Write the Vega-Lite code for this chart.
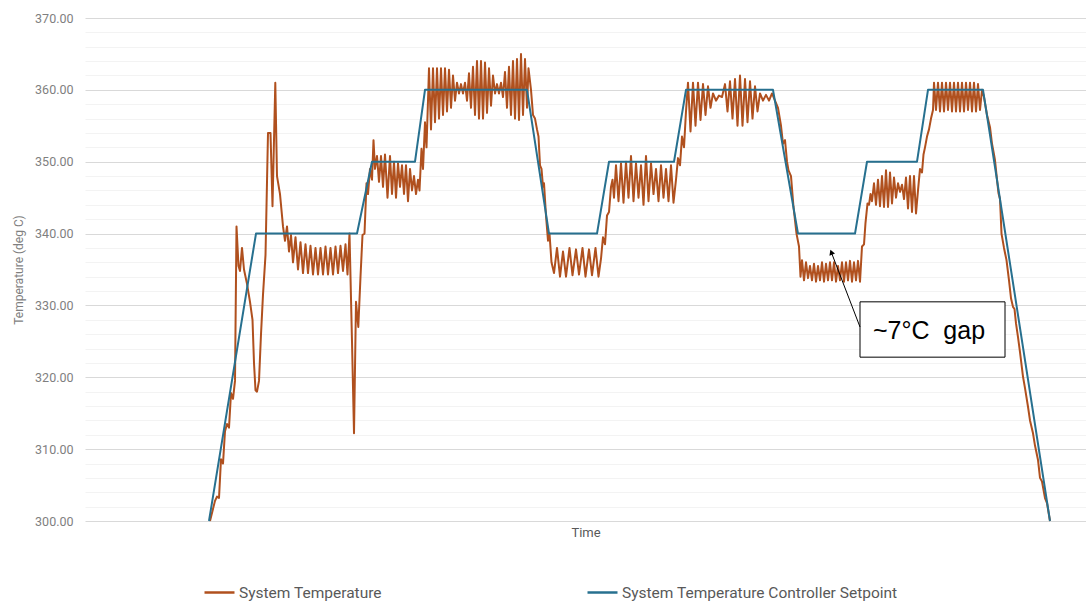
{
  "$schema": "https://vega.github.io/schema/vega-lite/v6.json",
  "width": 1001,
  "height": 503,
  "autosize": {"type": "none"},
  "padding": {"left": 85, "top": 18, "right": 0, "bottom": 83},
  "background": "white",
  "config": {"view": {"stroke": null}, "font": "Roboto"},
  "datasets": {
    "temp": [
      {"t":125,"v":300},{"t":130,"v":302.8},{"t":132,"v":303.4},{"t":134,"v":303.2},{"t":136,"v":308.6},{"t":138,"v":308},
      {"t":140,"v":312.5},{"t":142,"v":313.5},{"t":144,"v":313},{"t":146,"v":317.8},{"t":148,"v":317},{"t":150,"v":319.5},
      {"t":151.5,"v":341},{"t":153.5,"v":335.5},{"t":155,"v":334.8},{"t":157,"v":338},{"t":159,"v":335},{"t":162,"v":333},
      {"t":165,"v":330.5},{"t":167.5,"v":328},{"t":169,"v":322},{"t":170.5,"v":318.2},{"t":172,"v":318},{"t":174,"v":319.5},
      {"t":176,"v":326},{"t":178,"v":331.5},{"t":180.5,"v":337},{"t":183,"v":354},{"t":185.5,"v":354},{"t":187.5,"v":343.8},
      {"t":190.3,"v":361},{"t":192,"v":348},{"t":195,"v":345.5},{"t":198,"v":341},{"t":200,"v":339},{"t":202,"v":341},
      {"t":204,"v":337.5},{"t":206,"v":339.8},{"t":208,"v":336},{"t":210.5,"v":339.5},{"t":213,"v":335},{"t":215.5,"v":338.8},
      {"t":218,"v":334.5},{"t":220.5,"v":338.5},{"t":223,"v":334.5},{"t":225.5,"v":338.3},{"t":228,"v":334.3},{"t":230.5,"v":338},
      {"t":233,"v":334.3},{"t":235.5,"v":338},{"t":238,"v":334.3},{"t":240.5,"v":338.2},{"t":243,"v":334.3},{"t":245.5,"v":338},
      {"t":248,"v":334.3},{"t":250.5,"v":338.2},{"t":253,"v":334.5},{"t":255.5,"v":338.3},{"t":258,"v":334.8},{"t":260.5,"v":338.5},
      {"t":262.5,"v":334.3},{"t":264.5,"v":340},{"t":267,"v":325},{"t":269,"v":312.2},{"t":271,"v":330.5},{"t":273.3,"v":327},
      {"t":275.5,"v":334},{"t":277.5,"v":339.8},{"t":279.5,"v":340},{"t":281.5,"v":347},{"t":283,"v":345.5},{"t":285,"v":349},
      {"t":287,"v":347.5},{"t":288.5,"v":353},{"t":290,"v":349},{"t":292,"v":350.8},{"t":294,"v":347.2},{"t":296,"v":350.8},
      {"t":298,"v":346.5},{"t":300,"v":351},{"t":302.5,"v":345},{"t":305,"v":350.8},{"t":307,"v":345.5},{"t":309,"v":350},
      {"t":311,"v":345},{"t":313,"v":349.8},{"t":315,"v":346.5},{"t":317,"v":349.5},{"t":319,"v":345.5},{"t":321,"v":349.5},
      {"t":323,"v":344.5},{"t":325,"v":349},{"t":327,"v":346},{"t":329,"v":348},{"t":331,"v":345.5},{"t":333,"v":347.5},
      {"t":334.5,"v":346},{"t":336.5,"v":351.8},{"t":338,"v":349},{"t":340,"v":355.5},{"t":341.5,"v":352},{"t":343,"v":358.5},
      {"t":344,"v":363},{"t":346,"v":354.5},{"t":348,"v":363},{"t":350,"v":355.5},{"t":352,"v":363},{"t":354,"v":356},
      {"t":356,"v":363},{"t":358,"v":356.5},{"t":360,"v":363},{"t":362,"v":357},{"t":364,"v":362.8},{"t":366,"v":357.5},
      {"t":368,"v":362},{"t":370,"v":358.5},{"t":372,"v":361},{"t":374,"v":359.5},{"t":376,"v":360.8},{"t":378,"v":359.5},
      {"t":380,"v":361},{"t":382,"v":358.5},{"t":384,"v":362.3},{"t":386,"v":357.5},{"t":388,"v":363.2},{"t":390,"v":356.5},
      {"t":392,"v":364},{"t":394,"v":356},{"t":396,"v":364},{"t":398,"v":356},{"t":400,"v":363.8},{"t":402,"v":356.8},
      {"t":404,"v":363},{"t":406,"v":357.8},{"t":408,"v":362},{"t":410,"v":359.5},{"t":412,"v":360.8},{"t":414,"v":359.5},
      {"t":416,"v":361},{"t":418,"v":359},{"t":420,"v":362.5},{"t":422,"v":357.5},{"t":424,"v":363.2},{"t":426,"v":356.5},
      {"t":428,"v":364},{"t":430,"v":356},{"t":432,"v":364.3},{"t":434,"v":355.8},{"t":436,"v":365},{"t":438,"v":356.5},
      {"t":440,"v":364.3},{"t":442,"v":357.5},{"t":443.5,"v":363},{"t":446,"v":360},{"t":448,"v":356.5},{"t":450,"v":356},
      {"t":452,"v":354.5},{"t":453.5,"v":353.5},{"t":455,"v":349.5},{"t":456.5,"v":349},{"t":458,"v":346.5},{"t":459,"v":347},
      {"t":461,"v":342.5},{"t":463,"v":339},{"t":464.5,"v":340},{"t":466.5,"v":336},{"t":469,"v":334.5},{"t":472,"v":338},
      {"t":475,"v":334},{"t":478,"v":337.5},{"t":481,"v":334},{"t":484.5,"v":338},{"t":487.5,"v":334.2},{"t":491,"v":337.8},
      {"t":494,"v":334.3},{"t":497.5,"v":338},{"t":500.5,"v":334},{"t":504,"v":337.8},{"t":507,"v":334.2},{"t":510.5,"v":338},
      {"t":513.5,"v":334},{"t":516,"v":336.5},{"t":518,"v":339.5},{"t":520,"v":338.5},{"t":522,"v":342.5},{"t":524,"v":343},
      {"t":526,"v":346.5},{"t":527.5,"v":347.5},{"t":529,"v":345},{"t":531,"v":349.5},{"t":533.5,"v":344.5},{"t":536,"v":349.8},
      {"t":538.5,"v":344.3},{"t":541,"v":350},{"t":543.5,"v":345},{"t":546,"v":350.8},{"t":548.5,"v":344.5},{"t":551,"v":349.8},
      {"t":553.5,"v":345},{"t":556,"v":349.5},{"t":558.5,"v":344},{"t":561,"v":350.8},{"t":563.5,"v":344.5},{"t":566,"v":349.8},
      {"t":568.5,"v":345.5},{"t":571,"v":349},{"t":573.5,"v":344.5},{"t":576,"v":349.5},{"t":578.5,"v":345},{"t":581,"v":349},
      {"t":583.5,"v":344.5},{"t":586,"v":349.5},{"t":588.5,"v":344.3},{"t":591,"v":347.5},{"t":593,"v":350.5},{"t":595,"v":349.5},
      {"t":597,"v":353.5},{"t":599,"v":352},{"t":601,"v":357},{"t":603,"v":361},{"t":605.5,"v":354.2},{"t":608,"v":361},
      {"t":610.5,"v":355},{"t":613,"v":361},{"t":615.5,"v":355.8},{"t":618,"v":360.8},{"t":620.5,"v":356.5},{"t":623,"v":360.5},
      {"t":625.5,"v":357.5},{"t":628,"v":359.5},{"t":631,"v":358.5},{"t":634,"v":359.2},{"t":637,"v":359},{"t":640,"v":360.8},
      {"t":642.5,"v":357},{"t":645,"v":361.2},{"t":647.5,"v":356},{"t":650,"v":361.5},{"t":652.5,"v":355},{"t":655,"v":362},
      {"t":657.5,"v":355},{"t":660,"v":361.5},{"t":662.5,"v":355.5},{"t":665,"v":361.2},{"t":667.5,"v":356},{"t":670,"v":360.5},
      {"t":672.5,"v":357},{"t":675,"v":359.5},{"t":678,"v":358.5},{"t":681,"v":359.3},{"t":684,"v":358.5},{"t":687,"v":359.5},
      {"t":690,"v":358.5},{"t":693,"v":357.5},{"t":696,"v":355},{"t":698,"v":352.5},{"t":700,"v":353},{"t":702,"v":350},
      {"t":703.5,"v":348.8},{"t":706,"v":348},{"t":708.5,"v":343.7},{"t":711.5,"v":340},{"t":714,"v":338.2},{"t":715.5,"v":334},
      {"t":717,"v":336.3},{"t":719,"v":333.5},{"t":721,"v":336},{"t":723,"v":333.8},{"t":725,"v":335.5},{"t":727,"v":333.5},
      {"t":729,"v":335.8},{"t":731,"v":333.3},{"t":733,"v":335.5},{"t":735,"v":333.5},{"t":737,"v":336},{"t":739,"v":333.3},
      {"t":741,"v":335.8},{"t":743,"v":333.5},{"t":745,"v":336},{"t":747,"v":333.5},{"t":749,"v":336},{"t":751,"v":333.3},
      {"t":753,"v":335.5},{"t":755,"v":333.5},{"t":757,"v":336},{"t":759,"v":333.3},{"t":761,"v":336},{"t":763,"v":333.5},
      {"t":765,"v":336.2},{"t":767,"v":333.3},{"t":769,"v":336},{"t":771,"v":333.5},{"t":773,"v":336.2},{"t":775,"v":333.3},
      {"t":777,"v":338.2},{"t":779,"v":338.5},{"t":780.5,"v":341.5},{"t":782.5,"v":344.2},{"t":784,"v":344},{"t":785.5,"v":345.5},
      {"t":787,"v":344.5},{"t":789,"v":347},{"t":791,"v":344},{"t":793,"v":347.5},{"t":795,"v":343.8},{"t":797,"v":348},
      {"t":799,"v":343.7},{"t":801,"v":348.8},{"t":803,"v":343.7},{"t":805,"v":348.5},{"t":807,"v":344.2},{"t":809,"v":347.8},
      {"t":811,"v":345},{"t":813,"v":347},{"t":815,"v":345.8},{"t":817,"v":346.8},{"t":819,"v":344.8},{"t":821,"v":347.8},
      {"t":823,"v":343.5},{"t":825,"v":348},{"t":827,"v":343},{"t":829,"v":348},{"t":831,"v":342.8},{"t":833,"v":346},
      {"t":835,"v":349},{"t":837,"v":348.5},{"t":838.5,"v":351},{"t":840,"v":352},{"t":842,"v":353.5},{"t":844,"v":354.5},
      {"t":846,"v":356},{"t":848,"v":357.2},{"t":849,"v":361},{"t":851,"v":357.2},{"t":853,"v":361},{"t":855,"v":357},
      {"t":857,"v":361},{"t":859,"v":357},{"t":861,"v":361},{"t":863,"v":357.2},{"t":865,"v":361},{"t":867,"v":357},
      {"t":869,"v":361},{"t":871,"v":357},{"t":873,"v":361},{"t":875,"v":357},{"t":877,"v":361},{"t":879,"v":357},
      {"t":881,"v":361},{"t":883,"v":357.2},{"t":885,"v":361},{"t":887,"v":357},{"t":889,"v":361},{"t":891,"v":357},
      {"t":893,"v":360.8},{"t":895,"v":357.2},{"t":897,"v":360},{"t":899,"v":359},{"t":902,"v":356.5},{"t":905,"v":354.8},
      {"t":907,"v":352.5},{"t":909,"v":351},{"t":910,"v":350.2},{"t":912,"v":347.5},{"t":913.5,"v":345.6},{"t":915,"v":344.8},
      {"t":916.5,"v":340},{"t":919,"v":338},{"t":921.5,"v":336.3},{"t":924,"v":333.5},{"t":926,"v":331},{"t":928,"v":329.8},
      {"t":929.5,"v":329.5},{"t":931,"v":327.5},{"t":933,"v":325.6},{"t":935,"v":323.5},{"t":938,"v":320.1},{"t":940,"v":318.5},
      {"t":943,"v":315.9},{"t":945,"v":314},{"t":948,"v":312.2},{"t":950,"v":310.5},{"t":953,"v":308.5},{"t":955,"v":306},
      {"t":957,"v":305.5},{"t":960,"v":303.2},{"t":962,"v":302.5},{"t":965,"v":300}
    ],
    "setpoint": [
      {"t":124,"v":300},{"t":171,"v":340},{"t":272,"v":340},{"t":287,"v":350},{"t":330,"v":350},{"t":340,"v":360},
      {"t":442,"v":360},{"t":464,"v":340},{"t":512,"v":340},{"t":524,"v":350},{"t":589,"v":350},{"t":601,"v":360},
      {"t":688,"v":360},{"t":713,"v":340},{"t":770,"v":340},{"t":782,"v":350},{"t":832,"v":350},{"t":843,"v":360},
      {"t":898,"v":360},{"t":965,"v":300}
    ],
    "box": [{"t":775,"t2":920,"v":330.5,"v2":322.8}],
    "arrow": [{"t":775,"v":327},{"t":746.3,"v":337.4}],
    "head": [{"t":746.3,"v":337.4}],
    "note": [{"t":844,"v":326.4,"label":"~7°C\u00a0\u00a0gap"}]
  },
  "layer": [
    {
      "data": {"name": "temp"},
      "mark": {"type": "line", "strokeWidth": 2, "strokeJoin": "round"},
      "encoding": {
        "x": {
          "field": "t", "type": "quantitative",
          "scale": {"domain": [0, 1001], "nice": false, "zero": false},
          "axis": {"title": "Time", "labels": false, "ticks": false, "domain": false, "grid": false,
                   "titleColor": "#595959", "titleFontSize": 13, "titleFontWeight": "normal", "titlePadding": 5}
        },
        "y": {
          "field": "v", "type": "quantitative",
          "scale": {"domain": [300, 370], "nice": false, "zero": false},
          "axis": {"orient": "left", "values": [302,304,306,308,312,314,316,318,322,324,326,328,332,334,336,338,342,344,346,348,352,354,356,358,362,364,366,368],
                   "labels": false, "ticks": false, "domain": false, "title": null, "grid": true, "gridColor": "#f3f3f3"}
        },
        "color": {
          "datum": "System Temperature", "type": "nominal",
          "scale": {"domain": ["System Temperature", "System Temperature Controller Setpoint"], "range": ["#B0501E", "#27708F"]},
          "legend": {"orient": "none", "legendX": 118, "legendY": 558, "direction": "horizontal", "title": null,
                     "symbolType": "stroke", "symbolSize": 900, "symbolStrokeWidth": 2.5, "labelFontSize": 15.5,
                     "labelColor": "#595959", "labelFont": "Roboto", "labelLimit": 400, "columnPadding": 200, "labelOffset": 3}
        }
      }
    },
    {
      "data": {"name": "setpoint"},
      "mark": {"type": "line", "strokeWidth": 2, "strokeJoin": "round"},
      "encoding": {
        "x": {"field": "t", "type": "quantitative"},
        "y": {
          "field": "v", "type": "quantitative",
          "axis": {"orient": "left", "values": [300,310,320,330,340,350,360,370], "format": ".2f", "title": "Temperature (deg C)",
                   "titleFontSize": 12, "titleFontWeight": "normal", "titleColor": "#7f7f7f", "titlePadding": 9,
                   "labelColor": "#7f7f7f", "labelFontSize": 12.5, "labelPadding": 12, "ticks": false, "domain": false,
                   "grid": true, "gridColor": "#d9d9d9"}
        },
        "color": {"datum": "System Temperature Controller Setpoint", "type": "nominal"}
      }
    },
    {
      "data": {"name": "box"},
      "mark": {"type": "rect", "fill": "white", "stroke": "black", "strokeWidth": 1},
      "encoding": {
        "x": {"field": "t", "type": "quantitative"},
        "x2": {"field": "t2"},
        "y": {"field": "v", "type": "quantitative", "axis": null},
        "y2": {"field": "v2"}
      }
    },
    {
      "data": {"name": "arrow"},
      "mark": {"type": "line", "color": "black", "strokeWidth": 1},
      "encoding": {
        "x": {"field": "t", "type": "quantitative"},
        "y": {"field": "v", "type": "quantitative", "axis": null}
      }
    },
    {
      "data": {"name": "head"},
      "mark": {"type": "point", "shape": "triangle-up", "filled": true, "color": "black", "opacity": 1, "size": 35, "angle": 339},
      "encoding": {
        "x": {"field": "t", "type": "quantitative"},
        "y": {"field": "v", "type": "quantitative", "axis": null}
      }
    },
    {
      "data": {"name": "note"},
      "mark": {"type": "text", "font": "Liberation Sans", "fontSize": 25, "color": "black", "align": "center", "baseline": "middle"},
      "encoding": {
        "x": {"field": "t", "type": "quantitative"},
        "y": {"field": "v", "type": "quantitative", "axis": null},
        "text": {"field": "label"}
      }
    }
  ],
  "resolve": {"axis": {"y": "independent"}}
}
